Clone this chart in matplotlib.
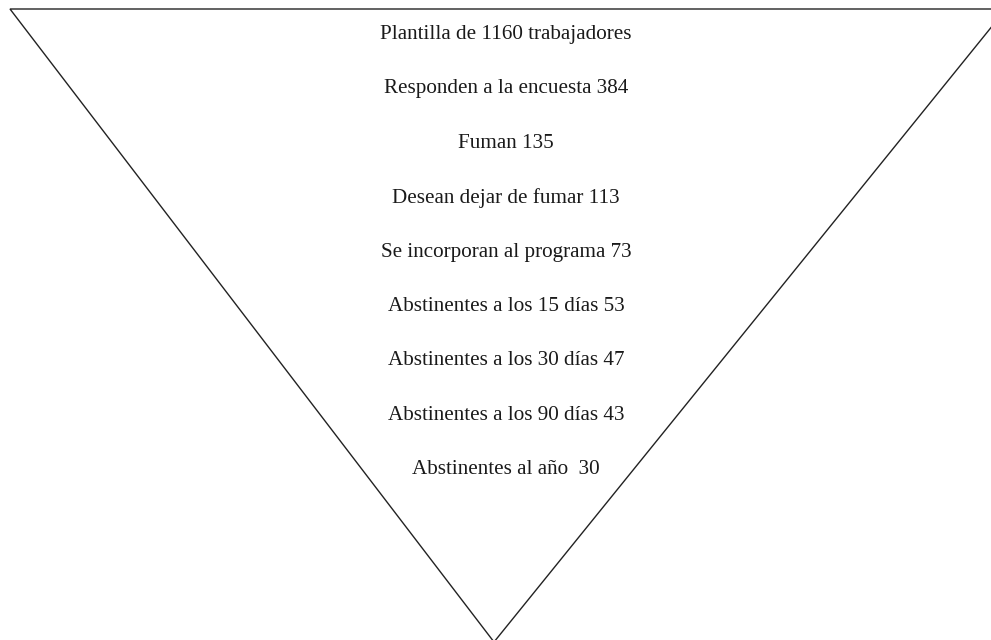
import matplotlib.pyplot as plt
from matplotlib.patches import Polygon

# funnel steps (text, count)
steps = [
    "Plantilla de 1160 trabajadores",
    "Responden a la encuesta 384",
    "Fuman 135",
    "Desean dejar de fumar 113",
    "Se incorporan al programa 73",
    "Abstinentes a los 15 días 53",
    "Abstinentes a los 30 días 47",
    "Abstinentes a los 90 días 43",
    "Abstinentes al año  30",
]

fig = plt.figure(figsize=(9.91, 6.40), dpi=100)
ax = fig.add_axes([0, 0, 1, 1])
ax.set_xlim(0, 991)
ax.set_ylim(640, 0)
ax.axis('off')

# inverted triangle, right corner runs past the frame
tri = Polygon([(10, 9), (1006, 9), (494, 642)], closed=True,
              facecolor='white', edgecolor='#222222', linewidth=1.0)
ax.add_patch(tri)

y0, dy = 34.5, 54.4
for i, s in enumerate(steps):
    ax.text(506, y0 + i * dy, s, ha='center', va='center',
            fontsize=15.2, family='Liberation Serif', color='#1a1a1a')

fig.savefig('out.png', dpi=100)
